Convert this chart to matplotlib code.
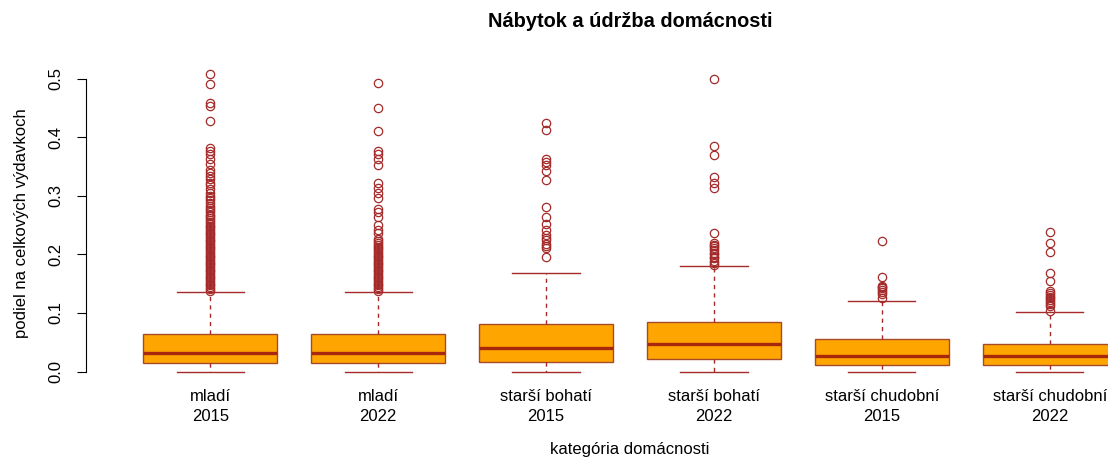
import matplotlib
matplotlib.use("Agg")
import matplotlib.pyplot as plt

plt.rcParams['font.family'] = ['Liberation Sans', 'DejaVu Sans']

# %%
labels = ["mladí\n2015", "mladí\n2022", "starší bohatí\n2015", "starší bohatí\n2022",
          "starší chudobní\n2015", "starší chudobní\n2022"]
q1 = [0.015, 0.015, 0.017, 0.021, 0.011, 0.011]
med = [0.032, 0.032, 0.040, 0.047, 0.027, 0.027]
q3 = [0.064, 0.064, 0.081, 0.085, 0.055, 0.047]
whislo = [0.0, 0.0, 0.0, 0.0, 0.0, 0.0]
whishi = [0.136, 0.135, 0.169, 0.180, 0.120, 0.102]

out_mladi_2015 = [0.508, 0.491, 0.459, 0.453, 0.427, 0.382, 0.377, 0.371, 0.362, 0.355,
                  0.344, 0.338, 0.333, 0.328, 0.322, 0.318, 0.312, 0.305, 0.300, 0.296,
                  0.292, 0.287, 0.283, 0.279, 0.275, 0.272, 0.268, 0.265, 0.262, 0.258,
                  0.255, 0.252, 0.249, 0.246, 0.243, 0.240, 0.237, 0.234, 0.231, 0.228,
                  0.225, 0.222, 0.219, 0.216, 0.213, 0.210, 0.207, 0.204, 0.201, 0.198,
                  0.195, 0.192, 0.189, 0.186, 0.183, 0.180, 0.177, 0.174, 0.171, 0.168,
                  0.165, 0.162, 0.159, 0.156, 0.153, 0.150, 0.147, 0.144, 0.141, 0.138]
out_mladi_2022 = [0.493, 0.450, 0.410, 0.377, 0.371, 0.362, 0.352, 0.321, 0.314, 0.305,
                  0.296, 0.278, 0.273, 0.264, 0.250, 0.241, 0.236, 0.227, 0.222, 0.219,
                  0.216, 0.213, 0.210, 0.207, 0.204, 0.201, 0.198, 0.195, 0.192, 0.189,
                  0.186, 0.183, 0.180, 0.177, 0.174, 0.171, 0.168, 0.165, 0.162, 0.159,
                  0.156, 0.153, 0.150, 0.147, 0.144, 0.141, 0.138]
out_bohati_2015 = [0.424, 0.413, 0.362, 0.358, 0.352, 0.343, 0.327, 0.280, 0.264, 0.252,
                   0.241, 0.233, 0.228, 0.224, 0.218, 0.214, 0.210, 0.195]
out_bohati_2022 = [0.500, 0.385, 0.369, 0.332, 0.321, 0.314, 0.236, 0.220, 0.216, 0.214,
                   0.210, 0.207, 0.203, 0.200, 0.196, 0.193, 0.189, 0.186, 0.182]
out_chudobni_2015 = [0.223, 0.161, 0.146, 0.144, 0.142, 0.139, 0.136, 0.133, 0.125]
out_chudobni_2022 = [0.238, 0.219, 0.204, 0.168, 0.155, 0.137, 0.134, 0.131, 0.128, 0.125,
                     0.122, 0.119, 0.116, 0.112, 0.104]
outliers = [out_mladi_2015, out_mladi_2022, out_bohati_2015, out_bohati_2022,
            out_chudobni_2015, out_chudobni_2022]

# %%
stats = []
for i in range(len(labels)):
    stats.append({'med': med[i], 'q1': q1[i], 'q3': q3[i], 'whislo': whislo[i],
                  'whishi': whishi[i], 'fliers': outliers[i], 'label': labels[i]})

border = '#A52A2A'
fig = plt.figure(figsize=(11.08, 4.61), dpi=100)
ax = fig.add_axes([0.0776, 0.1683, 0.982, 0.6972])
ax.bxp(stats, positions=range(1, 7), widths=0.8, patch_artist=True,
       boxprops={'facecolor': '#FFA500', 'edgecolor': '#A64A2A', 'linewidth': 1.0},
       medianprops={'color': '#A8280E', 'linewidth': 2.4, 'solid_capstyle': 'butt'},
       whiskerprops={'color': border, 'linewidth': 1.0, 'linestyle': (0, (3, 3))},
       capprops={'color': border, 'linewidth': 1.0},
       flierprops={'marker': 'o', 'markerfacecolor': 'none', 'markeredgecolor': border,
                   'markersize': 6, 'markeredgewidth': 0.9})

ax.set_xlim(0.26, 6.74)
ax.set_ylim(-0.0203, 0.5283)
for s in ['top', 'right', 'bottom']:
    ax.spines[s].set_visible(False)
ax.spines['left'].set_bounds(0, 0.5)
ax.set_yticks([0.0, 0.1, 0.2, 0.3, 0.4, 0.5], ['0.0', '0.1', '0.2', '0.3', '0.4', '0.5'])
ax.tick_params(axis='y', labelsize=12, length=6.5, pad=10, labelrotation=90)
for t in ax.get_yticklabels():
    t.set_va('center')
ax.tick_params(axis='x', labelsize=12, length=0, pad=4)
for t in ax.get_xticklabels():
    t.set_linespacing(1.4)
ax.set_ylabel('podiel na celkových výdavkoch', fontsize=12, labelpad=14)
ax.set_xlabel('kategória domácnosti', fontsize=12, labelpad=13)
ax.set_title('Nábytok a údržba domácnosti', fontsize=14.4, fontweight='bold', pad=25)
ax.title.set_x((630 - 86) / 1088)

plt.savefig('out.png', dpi=100)
